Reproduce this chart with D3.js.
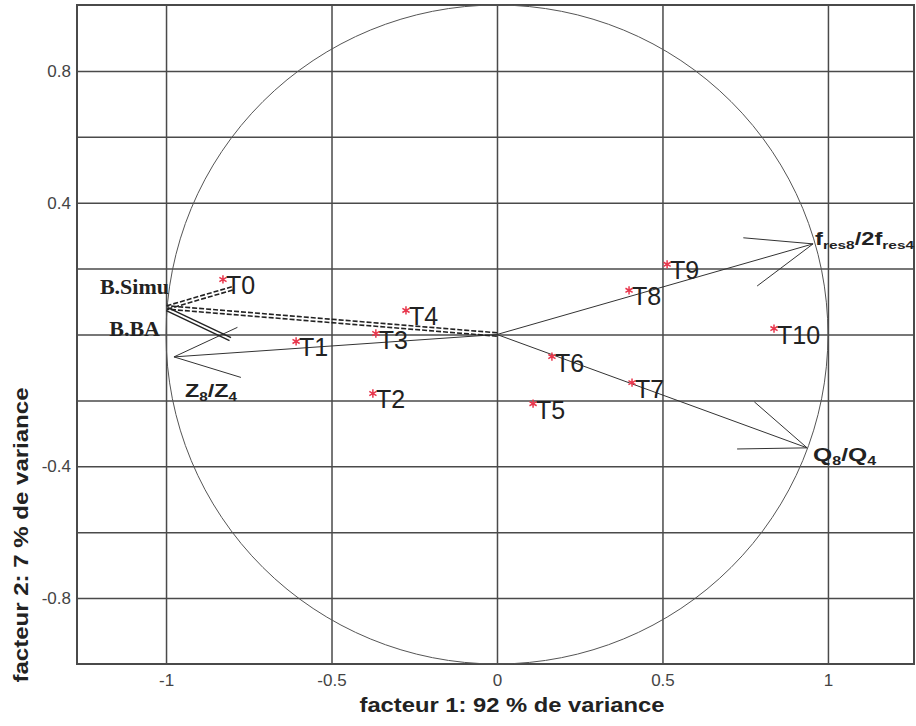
<!DOCTYPE html>
<html>
<head>
<meta charset="utf-8">
<script src="https://cdn.jsdelivr.net/npm/d3@7"></script>
<style>
  html, body { margin: 0; padding: 0; background: #fff; }
  svg { display: block; }
</style>
</head>
<body>
<svg id="chart" width="916" height="726"></svg>
<script>
// ---------- data ----------
const pointNames = ["T0","T1","T2","T3","T4","T5","T6","T7","T8","T9","T10"];
const pointX = [-0.828, -0.607, -0.375, -0.366, -0.275, 0.109, 0.166, 0.408, 0.399, 0.514, 0.837];
const pointY = [0.167, -0.021, -0.179, 0.003, 0.073, -0.210, -0.067, -0.146, 0.134, 0.213, 0.018];

const arrowNames = ["fres", "Q", "Z", "B.Simu", "B.BA"];
const arrowX = [0.955, 0.937, -0.976, -0.997, -0.997];
const arrowY = [0.275, -0.344, -0.068, 0.082, 0.077];

const xTickValues = [-1, -0.5, 0, 0.5, 1];
const xTickLabels = ["-1", "-0.5", "0", "0.5", "1"];
const yGridValues = [-0.8, -0.6, -0.4, -0.2, 0, 0.2, 0.4, 0.6, 0.8];
const yTickValues = [0.8, 0.4, -0.4, -0.8];
const yTickLabels = ["0.8", "0.4", "-0.4", "-0.8"];

const xTitle = "facteur 1: 92 % de variance";
const yTitle = "facteur 2: 7 % de variance";

// ---------- layout ----------
const svg = d3.select("#chart");
const L = 77, R = 914, T = 5, B = 664;
const x = d3.scaleLinear().domain([-1.269, 1.26]).range([L, R]);
const y = d3.scaleLinear().domain([-1, 1]).range([B, T]);
const gridColor = "#4a4a4a";
const sans = "'Liberation Sans', Arial, sans-serif";
const serif = "'Liberation Serif', 'Times New Roman', serif";

// grid + axes
const xAxis = d3.axisBottom(x).tickValues(xTickValues)
  .tickFormat((d, i) => xTickLabels[i]).tickSizeInner(-(B - T)).tickSizeOuter(0).tickPadding(10);
const gx = svg.append("g").attr("transform", `translate(0,${B})`).call(xAxis);
gx.select(".domain").remove();
gx.selectAll("line").attr("stroke", gridColor).attr("stroke-width", 1.5);
gx.selectAll("text").attr("font-family", sans).attr("font-size", 17).attr("fill", "#444");

const yAxis = d3.axisLeft(y).tickValues(yGridValues)
  .tickFormat(d => { const i = yTickValues.findIndex(v => Math.abs(v - d) < 1e-9); return i >= 0 ? yTickLabels[i] : ""; })
  .tickSizeInner(-(R - L)).tickSizeOuter(0).tickPadding(6);
const gy = svg.append("g").attr("transform", `translate(${L},0)`).call(yAxis);
gy.select(".domain").remove();
gy.selectAll("line").attr("stroke", gridColor).attr("stroke-width", 1.5);
gy.selectAll("text").attr("font-family", sans).attr("font-size", 17).attr("fill", "#444");

// border
svg.append("rect").attr("x", L).attr("y", T).attr("width", R - L).attr("height", B - T)
  .attr("fill", "none").attr("stroke", gridColor).attr("stroke-width", 2);

// unit circle
svg.append("ellipse").attr("cx", x(0)).attr("cy", y(0))
  .attr("rx", x(1) - x(0)).attr("ry", y(0) - y(1))
  .attr("fill", "none").attr("stroke", "#555").attr("stroke-width", 1);

// ---------- arrows ----------
const ox = x(0), oy = y(0);
const headLen = 70, headAng = 21 * Math.PI / 180;
function heads(tx, ty) {
  const a = Math.atan2(oy - ty, ox - tx);
  return {
    up: [tx + headLen * Math.cos(a - headAng), ty + headLen * Math.sin(a - headAng)],
    down: [tx + headLen * Math.cos(a + headAng), ty + headLen * Math.sin(a + headAng)]
  };
}
const ga = svg.append("g").attr("fill", "none");
function seg(x1, y1, x2, y2, opts = {}) {
  const offs = opts.double ? [-1.7, 1.7] : [0];
  const dx = x2 - x1, dy = y2 - y1, len = Math.hypot(dx, dy);
  const nx = -dy / len, ny = dx / len;
  offs.forEach(o => {
    ga.append("line")
      .attr("x1", x1 + nx * o).attr("y1", y1 + ny * o)
      .attr("x2", x2 + nx * o).attr("y2", y2 + ny * o)
      .attr("stroke", opts.color || "#333")
      .attr("stroke-width", opts.width || 1)
      .attr("stroke-dasharray", opts.dash || null);
  });
}
arrowNames.forEach((n, i) => {
  const tx = x(arrowX[i]), ty = y(arrowY[i]);
  const h = heads(tx, ty);
  if (n === "B.Simu") {
    const o = { double: true, dash: "5,2", width: 1.6, color: "#222" };
    seg(ox, oy, tx, ty, o);
    seg(tx, ty, h.up[0], h.up[1], o);
  } else if (n === "B.BA") {
    const o = { double: true, width: 1.4, color: "#222" };
    seg(tx, ty, h.down[0], h.down[1], o);
  } else {
    seg(ox, oy, tx, ty, { color: "#333" });
    seg(tx, ty, h.up[0], h.up[1], { color: "#333" });
    seg(tx, ty, h.down[0], h.down[1], { color: "#333" });
  }
});

// arrow labels
function subLabel(px, py, parts, size, len) {
  const t = svg.append("text").attr("x", px).attr("y", py)
    .attr("font-family", sans).attr("font-weight", "bold")
    .attr("font-size", size).attr("fill", "#222");
  parts.forEach(p => {
    const s = t.append("tspan").text(p.t);
    if (p.sub) s.attr("font-size", size * 0.65).attr("dy", 4);
    else if (p.after) s.attr("dy", -4);
  });
  if (len) t.attr("textLength", len).attr("lengthAdjust", "spacingAndGlyphs");
  return t;
}
{
  const i = arrowNames.indexOf("fres");
  subLabel(x(arrowX[i]) + 2, y(arrowY[i]) + 1,
    [{ t: "f" }, { t: "res8", sub: true }, { t: "/2f", after: true }, { t: "res4", sub: true }], 18, 99);
}
{
  const i = arrowNames.indexOf("Q");
  subLabel(x(arrowX[i]) + 6, y(arrowY[i]) + 13,
    [{ t: "Q" }, { t: "8", sub: true }, { t: "/Q", after: true }, { t: "4", sub: true }], 19, 63);
}
{
  const i = arrowNames.indexOf("Z");
  subLabel(x(arrowX[i]) + 11, y(arrowY[i]) + 40,
    [{ t: "Z" }, { t: "8", sub: true }, { t: "/Z", after: true }, { t: "4", sub: true }], 19, 52);
}
{
  const i = arrowNames.indexOf("B.Simu");
  svg.append("text").attr("x", x(arrowX[i]) + 2).attr("y", y(arrowY[i]) - 13)
    .attr("text-anchor", "end").attr("font-family", serif).attr("font-weight", "bold")
    .attr("font-size", 22).attr("fill", "#222").text("B.Simu");
}
{
  const i = arrowNames.indexOf("B.BA");
  svg.append("text").attr("x", x(arrowX[i]) - 7).attr("y", y(arrowY[i]) + 27)
    .attr("text-anchor", "end").attr("font-family", serif).attr("font-weight", "bold")
    .attr("font-size", 22).attr("fill", "#222").text("B.BA");
}

// ---------- points ----------
const gp = svg.append("g");
const star = d3.symbol().type(d3.symbolAsterisk).size(48);
pointNames.forEach((n, i) => {
  const px = x(pointX[i]), py = y(pointY[i]);
  gp.append("path").attr("d", star()).attr("transform", `translate(${px},${py})`)
    .attr("fill", "none").attr("stroke", "#e8374d").attr("stroke-width", 1.5);
  gp.append("text").attr("x", px + 3).attr("y", py + 15)
    .attr("font-family", sans).attr("font-size", 25).attr("fill", "#222").text(n);
});

// ---------- titles ----------
svg.append("text").attr("x", 512).attr("y", 712).attr("text-anchor", "middle")
  .attr("font-family", sans).attr("font-weight", "bold").attr("font-size", 21)
  .attr("fill", "#222").attr("textLength", 305).attr("lengthAdjust", "spacingAndGlyphs")
  .text(xTitle);
svg.append("text").attr("transform", "translate(28,535) rotate(-90)").attr("text-anchor", "middle")
  .attr("font-family", sans).attr("font-weight", "bold").attr("font-size", 21)
  .attr("fill", "#222").attr("textLength", 295).attr("lengthAdjust", "spacingAndGlyphs")
  .text(yTitle);
</script>
</body>
</html>
